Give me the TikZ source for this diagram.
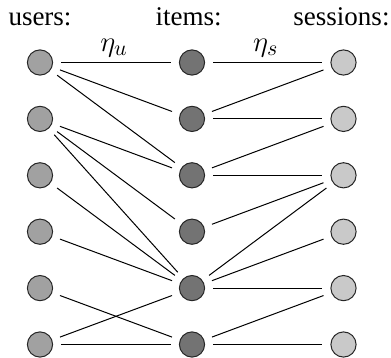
\documentclass[tikz,border=0pt]{standalone}
\usepackage{amsmath,amssymb}
\usepackage{fontspec}
\setmainfont{Liberation Serif}
\usepackage{xcolor}
\usepackage{tikz}

\definecolor{usergray}{gray}{0.63}
\definecolor{itemgray}{gray}{0.45}
\definecolor{sessgray}{gray}{0.79}

\tikzset{
  vert/.style={circle,draw=black!85,line width=0.5pt,minimum size=12.6pt,inner sep=0pt},
  user/.style={vert,fill=usergray},
  item/.style={vert,fill=itemgray},
  sess/.style={vert,fill=sessgray},
  edge/.style={line width=0.5pt,shorten >=4.1pt,shorten <=4.1pt},
  head/.style={anchor=base,font=\fontsize{13.5}{16}\selectfont},
  weight/.style={above,inner sep=2.5pt,font=\fontsize{15}{17}\selectfont}
}

\begin{document}
\begin{tikzpicture}[x=0.5pt,y=-0.5pt]
  \useasboundingbox (0,0) rectangle (391,358);
  \node[head] (hu) at (40,25.5) {users:};
  \node[head] (hi) at (188.5,25.5) {items:};
  \node[head] (hs) at (341.5,25.5) {sessions:};

  \node[user] (u1) at (40,62.5) {};  \node[item] (i1) at (192,62.5) {};  \node[sess] (s1) at (343.5,62.5) {};
  \node[user] (u2) at (40,118.9) {}; \node[item] (i2) at (192,118.9) {}; \node[sess] (s2) at (343.5,118.9) {};
  \node[user] (u3) at (40,175.3) {}; \node[item] (i3) at (192,175.3) {}; \node[sess] (s3) at (343.5,175.3) {};
  \node[user] (u4) at (40,231.7) {}; \node[item] (i4) at (192,231.7) {}; \node[sess] (s4) at (343.5,231.7) {};
  \node[user] (u5) at (40,288.1) {}; \node[item] (i5) at (192,288.1) {}; \node[sess] (s5) at (343.5,288.1) {};
  \node[user] (u6) at (40,344.5) {}; \node[item] (i6) at (192,344.5) {}; \node[sess] (s6) at (343.5,344.5) {};

  % users -- items
  \draw[edge] (u1) -- node[weight,xshift=-1pt] {$\eta_u$} (i1);
  \draw[edge] (u1) -- (i2);
  \draw[edge] (u1) -- (i3);
  \draw[edge] (u2) -- (i3);
  \draw[edge] (u2) -- (i4);
  \draw[edge] (u2) -- (i5);
  \draw[edge] (u3) -- (i5);
  \draw[edge] (u4) -- (i5);
  \draw[edge] (u5) -- (i6);
  \draw[edge] (u6) -- (i5);
  \draw[edge] (u6) -- (i6);

  % items -- sessions
  \draw[edge] (i1) -- node[weight,xshift=-1pt] {$\eta_s$} (s1);
  \draw[edge] (i2) -- (s1);
  \draw[edge] (i2) -- (s2);
  \draw[edge] (i3) -- (s2);
  \draw[edge] (i3) -- (s3);
  \draw[edge] (i4) -- (s3);
  \draw[edge] (i5) -- (s3);
  \draw[edge] (i5) -- (s4);
  \draw[edge] (i5) -- (s5);
  \draw[edge] (i6) -- (s5);
  \draw[edge] (i6) -- (s6);
\end{tikzpicture}
\end{document}
